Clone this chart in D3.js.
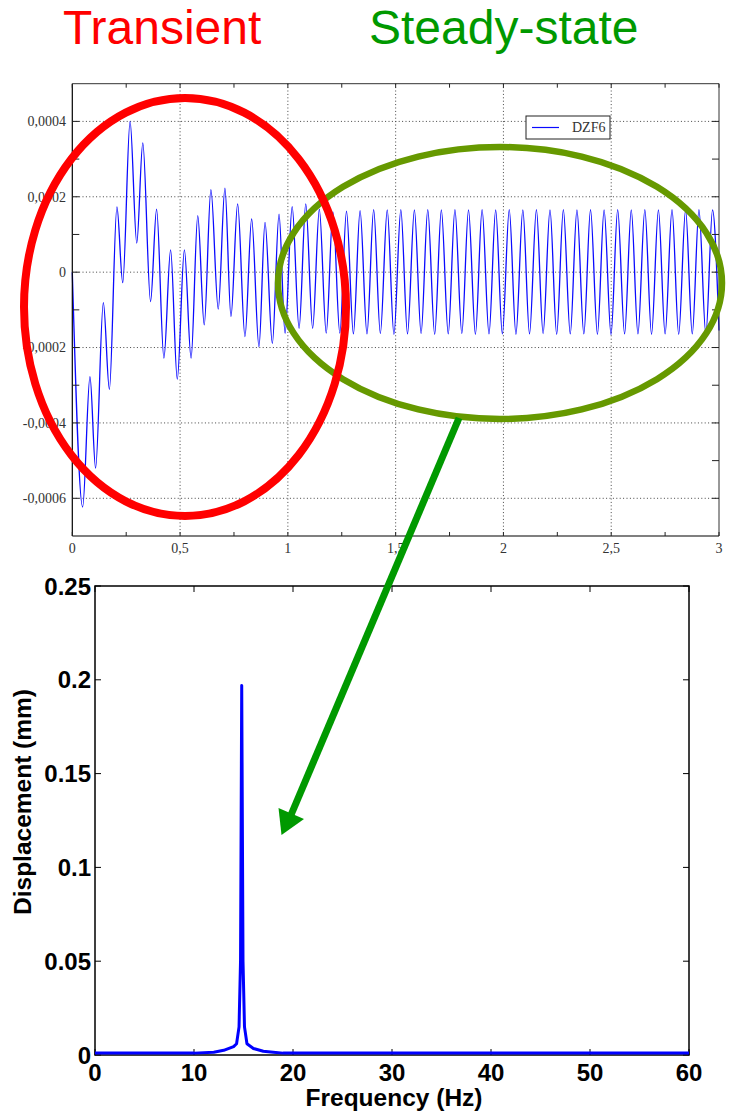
<!DOCTYPE html>
<html>
<head>
<meta charset="utf-8">
<script src="https://cdn.jsdelivr.net/npm/d3@7"></script>
<style>
  html, body { margin: 0; padding: 0; background: #fff; }
  svg { display: block; }
</style>
</head>
<body>
<svg id="chart" width="737" height="1112"></svg>
<script>
// ---- top chart: DZF6 displacement vs time (extrema, units 1e-4) ----
const sigTime = [
  0.000, 0.048, 0.082, 0.108, 0.144, 0.172, 0.207, 0.234, 0.268, 0.299,
  0.327, 0.363, 0.391, 0.425, 0.456, 0.487, 0.520, 0.551, 0.582, 0.612,
  0.643, 0.677, 0.708, 0.736, 0.767, 0.801, 0.832, 0.866, 0.894, 0.928,
  0.959, 0.987, 1.020, 1.052, 1.083, 1.115, 1.146, 1.178, 1.209, 1.241,
  1.272, 1.304, 1.335, 1.367, 1.398, 1.429, 1.461, 1.492, 1.524, 1.555,
  1.587, 1.618, 1.649, 1.681, 1.712, 1.744, 1.775, 1.807, 1.838, 1.870,
  1.901, 1.933, 1.964, 1.995, 2.027, 2.058, 2.090, 2.121, 2.153, 2.184,
  2.216, 2.247, 2.278, 2.310, 2.341, 2.373, 2.404, 2.436, 2.467, 2.499,
  2.530, 2.562, 2.593, 2.624, 2.656, 2.687, 2.719, 2.750, 2.782, 2.813,
  2.845, 2.876, 2.907, 2.939, 2.970, 3.000
];
const sigDispE4 = [
  0.00, -6.23, -2.77, -5.20, -0.81, -3.11, 1.73, -0.28, 4.00, 0.77,
  3.43, -0.78, 1.67, -2.28, 0.59, -2.84, 0.59, -2.28, 1.50, -1.40,
  2.19, -0.98, 2.23, -1.18, 1.81, -1.71, 1.41, -1.98, 1.32, -1.89,
  1.54, -1.62, 1.74, -1.49, 1.81, -1.49, 1.67, -1.62, 1.60, -1.62,
  1.62, -1.64, 1.63, -1.64, 1.66, -1.63, 1.65, -1.65, 1.66, -1.64,
  1.65, -1.63, 1.66, -1.65, 1.65, -1.64, 1.66, -1.63, 1.65, -1.65,
  1.66, -1.64, 1.65, -1.64, 1.66, -1.65, 1.65, -1.64, 1.66, -1.63,
  1.65, -1.65, 1.66, -1.64, 1.65, -1.64, 1.66, -1.65, 1.65, -1.66,
  1.66, -1.64, 1.65, -1.64, 1.66, -1.65, 1.65, -1.64, 1.66, -1.65,
  1.65, -1.64, 1.66, -1.65, 1.65, -1.55
];
const topXTicks = [0, 0.5, 1, 1.5, 2, 2.5, 3];
const topXLabels = ["0", "0,5", "1", "1,5", "2", "2,5", "3"];
const topXMinor = [0.25, 0.75, 1.25, 1.75, 2.25, 2.75];
const topYTicks = [-0.0006, -0.0004, -0.0002, 0, 0.0002, 0.0004];
const topYLabels = ["-0,0006", "-0,0004", "-0,0002", "0", "0,0002", "0,0004"];
const topYMinor = [-0.0005, -0.0003, -0.0001, 0.0001, 0.0003];
const legendName = "DZF6";

// ---- bottom chart: spectrum of the steady-state part ----
const freqHz = [0, 10, 12, 13, 14, 14.3, 14.55, 14.7, 14.82, 14.95, 15.1, 15.35, 16, 17, 18, 19, 60];
const amplMm = [0.001, 0.001, 0.0015, 0.0025, 0.0045, 0.006, 0.015, 0.05, 0.197, 0.05, 0.015, 0.006, 0.0035, 0.002, 0.0015, 0.001, 0.001];
const botXTicks = [0, 10, 20, 30, 40, 50, 60];
const botYTicks = [0, 0.05, 0.1, 0.15, 0.2, 0.25];
const botYLabels = ["0", "0.05", "0.1", "0.15", "0.2", "0.25"];

const svg = d3.select("#chart");
svg.append("rect").attr("width", 737).attr("height", 1112).attr("fill", "#fff");

// titles
svg.append("text").attr("x", 63).attr("y", 44)
  .attr("font-family", "'Liberation Sans', Arial, sans-serif").attr("font-size", 48)
  .attr("fill", "#ff0000").text("Transient");
svg.append("text").attr("x", 369).attr("y", 44)
  .attr("font-family", "'Liberation Sans', Arial, sans-serif").attr("font-size", 48)
  .attr("fill", "#009900").text("Steady-state");

// ================= top chart =================
const box1 = { left: 72.3, right: 719, top: 83.7, bottom: 536 };
const x = d3.scaleLinear().domain([0, 3]).range([box1.left, box1.right]);
const y = d3.scaleLinear().domain([-0.0007, 0.0005]).range([box1.bottom, box1.top]);

const gTop = svg.append("g");
const serif = "'Liberation Serif', 'Times New Roman', serif";

// dotted grid
gTop.selectAll("line.vgrid").data(topXTicks.slice(1, -1)).enter().append("line")
  .attr("x1", d => x(d)).attr("x2", d => x(d))
  .attr("y1", box1.top).attr("y2", box1.bottom)
  .attr("stroke", "#444").attr("stroke-width", 1).attr("stroke-dasharray", "1,2.4");
gTop.selectAll("line.hgrid").data(topYTicks).enter().append("line")
  .attr("x1", box1.left).attr("x2", box1.right)
  .attr("y1", d => y(d)).attr("y2", d => y(d))
  .attr("stroke", "#444").attr("stroke-width", 1).attr("stroke-dasharray", "1,2.4");

// signal
const line = d3.line()
  .x((d, i) => x(sigTime[i]))
  .y(d => y(d * 1e-4))
  .curve(d3.curveMonotoneX);
gTop.append("path").datum(sigDispE4)
  .attr("d", line).attr("fill", "none")
  .attr("stroke", "#0a0aff").attr("stroke-width", 1.3);

// frame
gTop.append("line").attr("x1", box1.left).attr("x2", box1.right).attr("y1", box1.top).attr("y2", box1.top)
  .attr("stroke", "#333").attr("stroke-width", 1);
gTop.append("line").attr("x1", box1.right).attr("x2", box1.right).attr("y1", box1.top).attr("y2", box1.bottom)
  .attr("stroke", "#333").attr("stroke-width", 1);
gTop.append("line").attr("x1", box1.left).attr("x2", box1.right).attr("y1", box1.bottom).attr("y2", box1.bottom)
  .attr("stroke", "#000").attr("stroke-width", 1.2);
gTop.append("line").attr("x1", box1.left).attr("x2", box1.left).attr("y1", box1.top).attr("y2", box1.bottom)
  .attr("stroke", "#000").attr("stroke-width", 1.2);

// ticks
const allXT = topXTicks.concat(topXMinor);
gTop.selectAll("line.xtb").data(allXT).enter().append("line")
  .attr("x1", d => x(d)).attr("x2", d => x(d))
  .attr("y1", box1.bottom).attr("y2", box1.bottom - 4).attr("stroke", "#222");
gTop.selectAll("line.xtt").data(allXT).enter().append("line")
  .attr("x1", d => x(d)).attr("x2", d => x(d))
  .attr("y1", box1.top).attr("y2", box1.top + 4).attr("stroke", "#222");
const allYT = topYTicks.concat(topYMinor);
gTop.selectAll("line.ytl").data(allYT).enter().append("line")
  .attr("x1", box1.left).attr("x2", box1.left + 7)
  .attr("y1", d => y(d)).attr("y2", d => y(d)).attr("stroke", "#222");
gTop.selectAll("line.ytr").data(allYT).enter().append("line")
  .attr("x1", box1.right).attr("x2", box1.right - 7)
  .attr("y1", d => y(d)).attr("y2", d => y(d)).attr("stroke", "#222");

// tick labels
gTop.selectAll("text.yl").data(topYTicks).enter().append("text")
  .attr("x", 66).attr("y", d => y(d)).attr("dy", "0.35em")
  .attr("text-anchor", "end").attr("font-family", serif).attr("font-size", 14)
  .attr("fill", "#333").text((d, i) => topYLabels[i]);
gTop.selectAll("text.xl").data(topXTicks).enter().append("text")
  .attr("x", d => x(d)).attr("y", 553)
  .attr("text-anchor", "middle").attr("font-family", serif).attr("font-size", 14)
  .attr("fill", "#333").text((d, i) => topXLabels[i]);

// legend
const lg = gTop.append("g");
lg.append("rect").attr("x", 526).attr("y", 116).attr("width", 84).attr("height", 23)
  .attr("fill", "#fff").attr("stroke", "#222").attr("stroke-width", 1);
lg.append("line").attr("x1", 532).attr("x2", 559).attr("y1", 127.5).attr("y2", 127.5)
  .attr("stroke", "#0a0aff").attr("stroke-width", 1.2);
lg.append("text").attr("x", 572).attr("y", 132).attr("font-family", serif)
  .attr("font-size", 14).attr("fill", "#333").text(legendName);

// ================= bottom chart =================
const box2 = { left: 95, right: 689, top: 586, bottom: 1055 };
const fx = d3.scaleLinear().domain([0, 60]).range([box2.left, box2.right]);
const fy = d3.scaleLinear().domain([0, 0.25]).range([box2.bottom, box2.top]);
const sans = "'Liberation Sans', Arial, sans-serif";
const gBot = svg.append("g");

gBot.append("rect").attr("x", box2.left).attr("y", box2.top)
  .attr("width", box2.right - box2.left).attr("height", box2.bottom - box2.top)
  .attr("fill", "none").attr("stroke", "#000").attr("stroke-width", 1.5);

gBot.selectAll("line.bxb").data(botXTicks).enter().append("line")
  .attr("x1", d => fx(d)).attr("x2", d => fx(d))
  .attr("y1", box2.bottom).attr("y2", box2.bottom - 6).attr("stroke", "#000");
gBot.selectAll("line.bxt").data(botXTicks).enter().append("line")
  .attr("x1", d => fx(d)).attr("x2", d => fx(d))
  .attr("y1", box2.top).attr("y2", box2.top + 6).attr("stroke", "#000");
gBot.selectAll("line.byl").data(botYTicks).enter().append("line")
  .attr("x1", box2.left).attr("x2", box2.left + 6)
  .attr("y1", d => fy(d)).attr("y2", d => fy(d)).attr("stroke", "#000");
gBot.selectAll("line.byr").data(botYTicks).enter().append("line")
  .attr("x1", box2.right).attr("x2", box2.right - 6)
  .attr("y1", d => fy(d)).attr("y2", d => fy(d)).attr("stroke", "#000");

const spec = d3.line()
  .x((d, i) => fx(freqHz[i]))
  .y(d => fy(d));
gBot.append("path").datum(amplMm).attr("d", spec)
  .attr("fill", "none").attr("stroke", "#0000ff").attr("stroke-width", 3)
  .attr("stroke-linejoin", "round");

gBot.selectAll("text.byl").data(botYTicks).enter().append("text")
  .attr("x", 91).attr("y", d => fy(d)).attr("dy", "0.36em")
  .attr("text-anchor", "end").attr("font-family", sans).attr("font-weight", "bold")
  .attr("font-size", 24).attr("fill", "#000").text((d, i) => botYLabels[i]);
gBot.selectAll("text.bxl").data(botXTicks).enter().append("text")
  .attr("x", d => fx(d)).attr("y", 1081)
  .attr("text-anchor", "middle").attr("font-family", sans).attr("font-weight", "bold")
  .attr("font-size", 24).attr("fill", "#000").text(d => d);

gBot.append("text").attr("x", 394).attr("y", 1106)
  .attr("text-anchor", "middle").attr("font-family", sans).attr("font-weight", "bold")
  .attr("font-size", 24.5).attr("fill", "#000").text("Frequency (Hz)");
gBot.append("text").attr("transform", "translate(31,802) rotate(-90)")
  .attr("text-anchor", "middle").attr("font-family", sans).attr("font-weight", "bold")
  .attr("font-size", 24.5).attr("fill", "#000").text("Displacement (mm)");

// ================= annotations =================
const ann = svg.append("g");
ann.append("ellipse").attr("cx", 500).attr("cy", 283).attr("rx", 222).attr("ry", 136)
  .attr("fill", "none").attr("stroke", "#669900").attr("stroke-width", 6.5);
ann.append("ellipse").attr("cx", 185).attr("cy", 307).attr("rx", 161).attr("ry", 209)
  .attr("fill", "none").attr("stroke", "#ff0000").attr("stroke-width", 8);
ann.append("line").attr("x1", 459).attr("y1", 418).attr("x2", 291).attr("y2", 815)
  .attr("stroke", "#009900").attr("stroke-width", 7);
ann.append("polygon").attr("points", "281.5,835 278.5,808 304,819")
  .attr("fill", "#009900");
</script>
</body>
</html>
